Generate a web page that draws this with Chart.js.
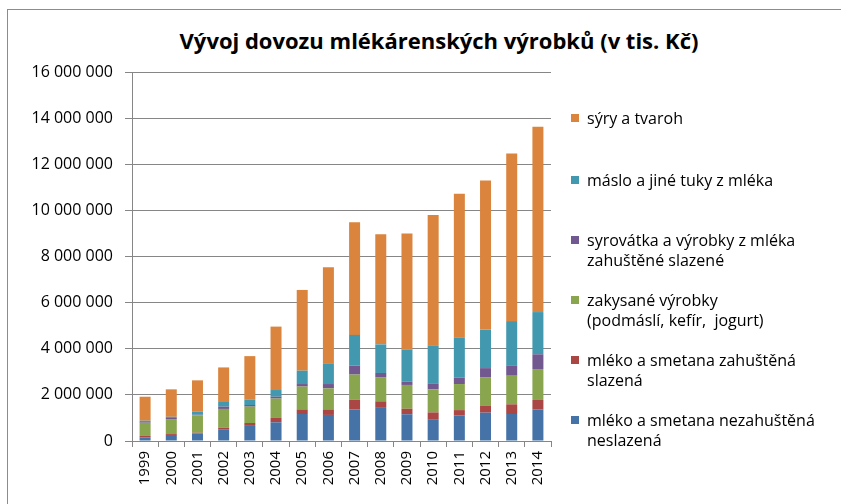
<!DOCTYPE html>
<html><head><meta charset="utf-8">
<script src="https://cdn.jsdelivr.net/npm/chart.js@4/dist/chart.umd.min.js"></script>
<style>
html,body{margin:0;padding:0;background:#fff;}
#wrap{position:relative;width:841px;height:504px;overflow:hidden;font-family:"Open Sans","DejaVu Sans",sans-serif;color:#000;}
#frame{position:absolute;left:7px;top:9px;width:900px;height:600px;border:1px solid #8c8c8c;}
#title{position:absolute;left:0;width:878px;top:27px;text-align:center;font-weight:bold;font-size:22px;line-height:26px;}
#c{position:absolute;left:0;top:0;}
#legend{position:absolute;left:0;top:0;width:841px;height:504px;pointer-events:none;}
.item{position:absolute;left:571px;font-size:16px;line-height:20px;white-space:nowrap;}
.sw{position:absolute;left:0;top:6px;width:8px;height:8px;}
.tx{position:absolute;left:16px;top:0;}
</style></head>
<body><div id="wrap">
<div id="frame"></div>
<div id="title">Vývoj dovozu mlékárenských výrobků (v tis. Kč)</div>
<canvas id="c" width="841" height="504"></canvas>
<div id="legend"></div>
</div>
<script>
const categories = ["1999","2000","2001","2002","2003","2004","2005","2006","2007","2008","2009","2010","2011","2012","2013","2014"];
const seriesNames = [
  "mléko a smetana nezahuštěná\nneslazená",
  "mléko a smetana zahuštěná\nslazená",
  "zakysané výrobky\n(podmáslí, kefír,  jogurt)",
  "syrovátka a výrobky z mléka\nzahuštěné slazené",
  "máslo a jiné tuky z mléka",
  "sýry a tvaroh"
];
const mlekoNezahustena = [150000,260000,330000,510000,690000,810000,1170000,1130000,1370000,1470000,1160000,920000,1100000,1230000,1170000,1370000];
const mlekoZahustena   = [70000,40000,30000,70000,90000,190000,200000,240000,420000,250000,240000,320000,240000,290000,420000,410000];
const zakysaneVyrobky  = [570000,650000,750000,810000,710000,840000,990000,910000,1090000,1050000,1030000,1000000,1130000,1230000,1240000,1340000];
const syrovatka        = [30000,50000,30000,100000,70000,80000,110000,190000,390000,180000,140000,260000,280000,410000,450000,640000];
const maslo            = [60000,50000,130000,200000,230000,290000,580000,900000,1330000,1240000,1400000,1650000,1730000,1670000,1920000,1830000];
const syry             = [1040000,1190000,1360000,1500000,1890000,2750000,3500000,4160000,4880000,4770000,5030000,5650000,6240000,6460000,7270000,8040000];
const yTickMin = 0, yTickMax = 16000000, yTickStep = 2000000;

const colors = ["#4572A7","#AA4643","#89A54E","#71588F","#4198AF","#DB843D"];
const seriesData = [mlekoNezahustena, mlekoZahustena, zakysaneVyrobky, syrovatka, maslo, syry];

const fontFam = '"Open Sans", "DejaVu Sans", sans-serif';
const gridCol = '#868686';
function fmt(v){ return String(v).replace(/\B(?=(\d{3})+(?!\d))/g, ' '); }

new Chart(document.getElementById('c'), {
  type: 'bar',
  data: {
    labels: categories,
    datasets: seriesData.map((d,i)=>({
      label: seriesNames[i].replace('\n',' '),
      data: d,
      backgroundColor: colors[i],
      borderWidth: 0,
      barPercentage: 0.42,
      categoryPercentage: 1.0
    }))
  },
  options: {
    responsive: false,
    animation: false,
    devicePixelRatio: 1,
    layout: { padding: { left: 0, right: 290, top: 72, bottom: 0 } },
    plugins: { legend: { display: false }, title: { display: false }, tooltip: { enabled: false } },
    scales: {
      x: {
        stacked: true,
        afterFit: s => { s.height = 63; },
        grid: { offset: true, drawOnChartArea: false, tickLength: 6, color: gridCol },
        border: { color: gridCol },
        ticks: { minRotation: 90, maxRotation: 90, padding: 4, color: '#000', font: { family: fontFam, size: 15 } }
      },
      y: {
        stacked: true,
        min: yTickMin, max: yTickMax,
        afterFit: s => { s.width = 132; },
        grid: { color: gridCol, tickLength: 7 },
        border: { color: gridCol },
        ticks: { stepSize: yTickStep, padding: 12, color: '#000', font: { family: fontFam, size: 16 }, callback: v => fmt(v) }
      }
    }
  }
});

// legend tops per series (same order as seriesNames)
const legendTops = [410, 350, 290, 230, 170, 108];
const lg = document.getElementById('legend');
seriesNames.forEach((n,i)=>{
  const it = document.createElement('div');
  it.className = 'item';
  it.style.top = legendTops[i] + 'px';
  const sw = document.createElement('div'); sw.className='sw'; sw.style.background = colors[i];
  const tx = document.createElement('div'); tx.className='tx'; tx.innerHTML = n.split('\n').map(s=>s.replace(/ {2}/g,' &nbsp;')).join('<br>');
  it.appendChild(sw); it.appendChild(tx); lg.appendChild(it);
});
</script>
</body></html>
